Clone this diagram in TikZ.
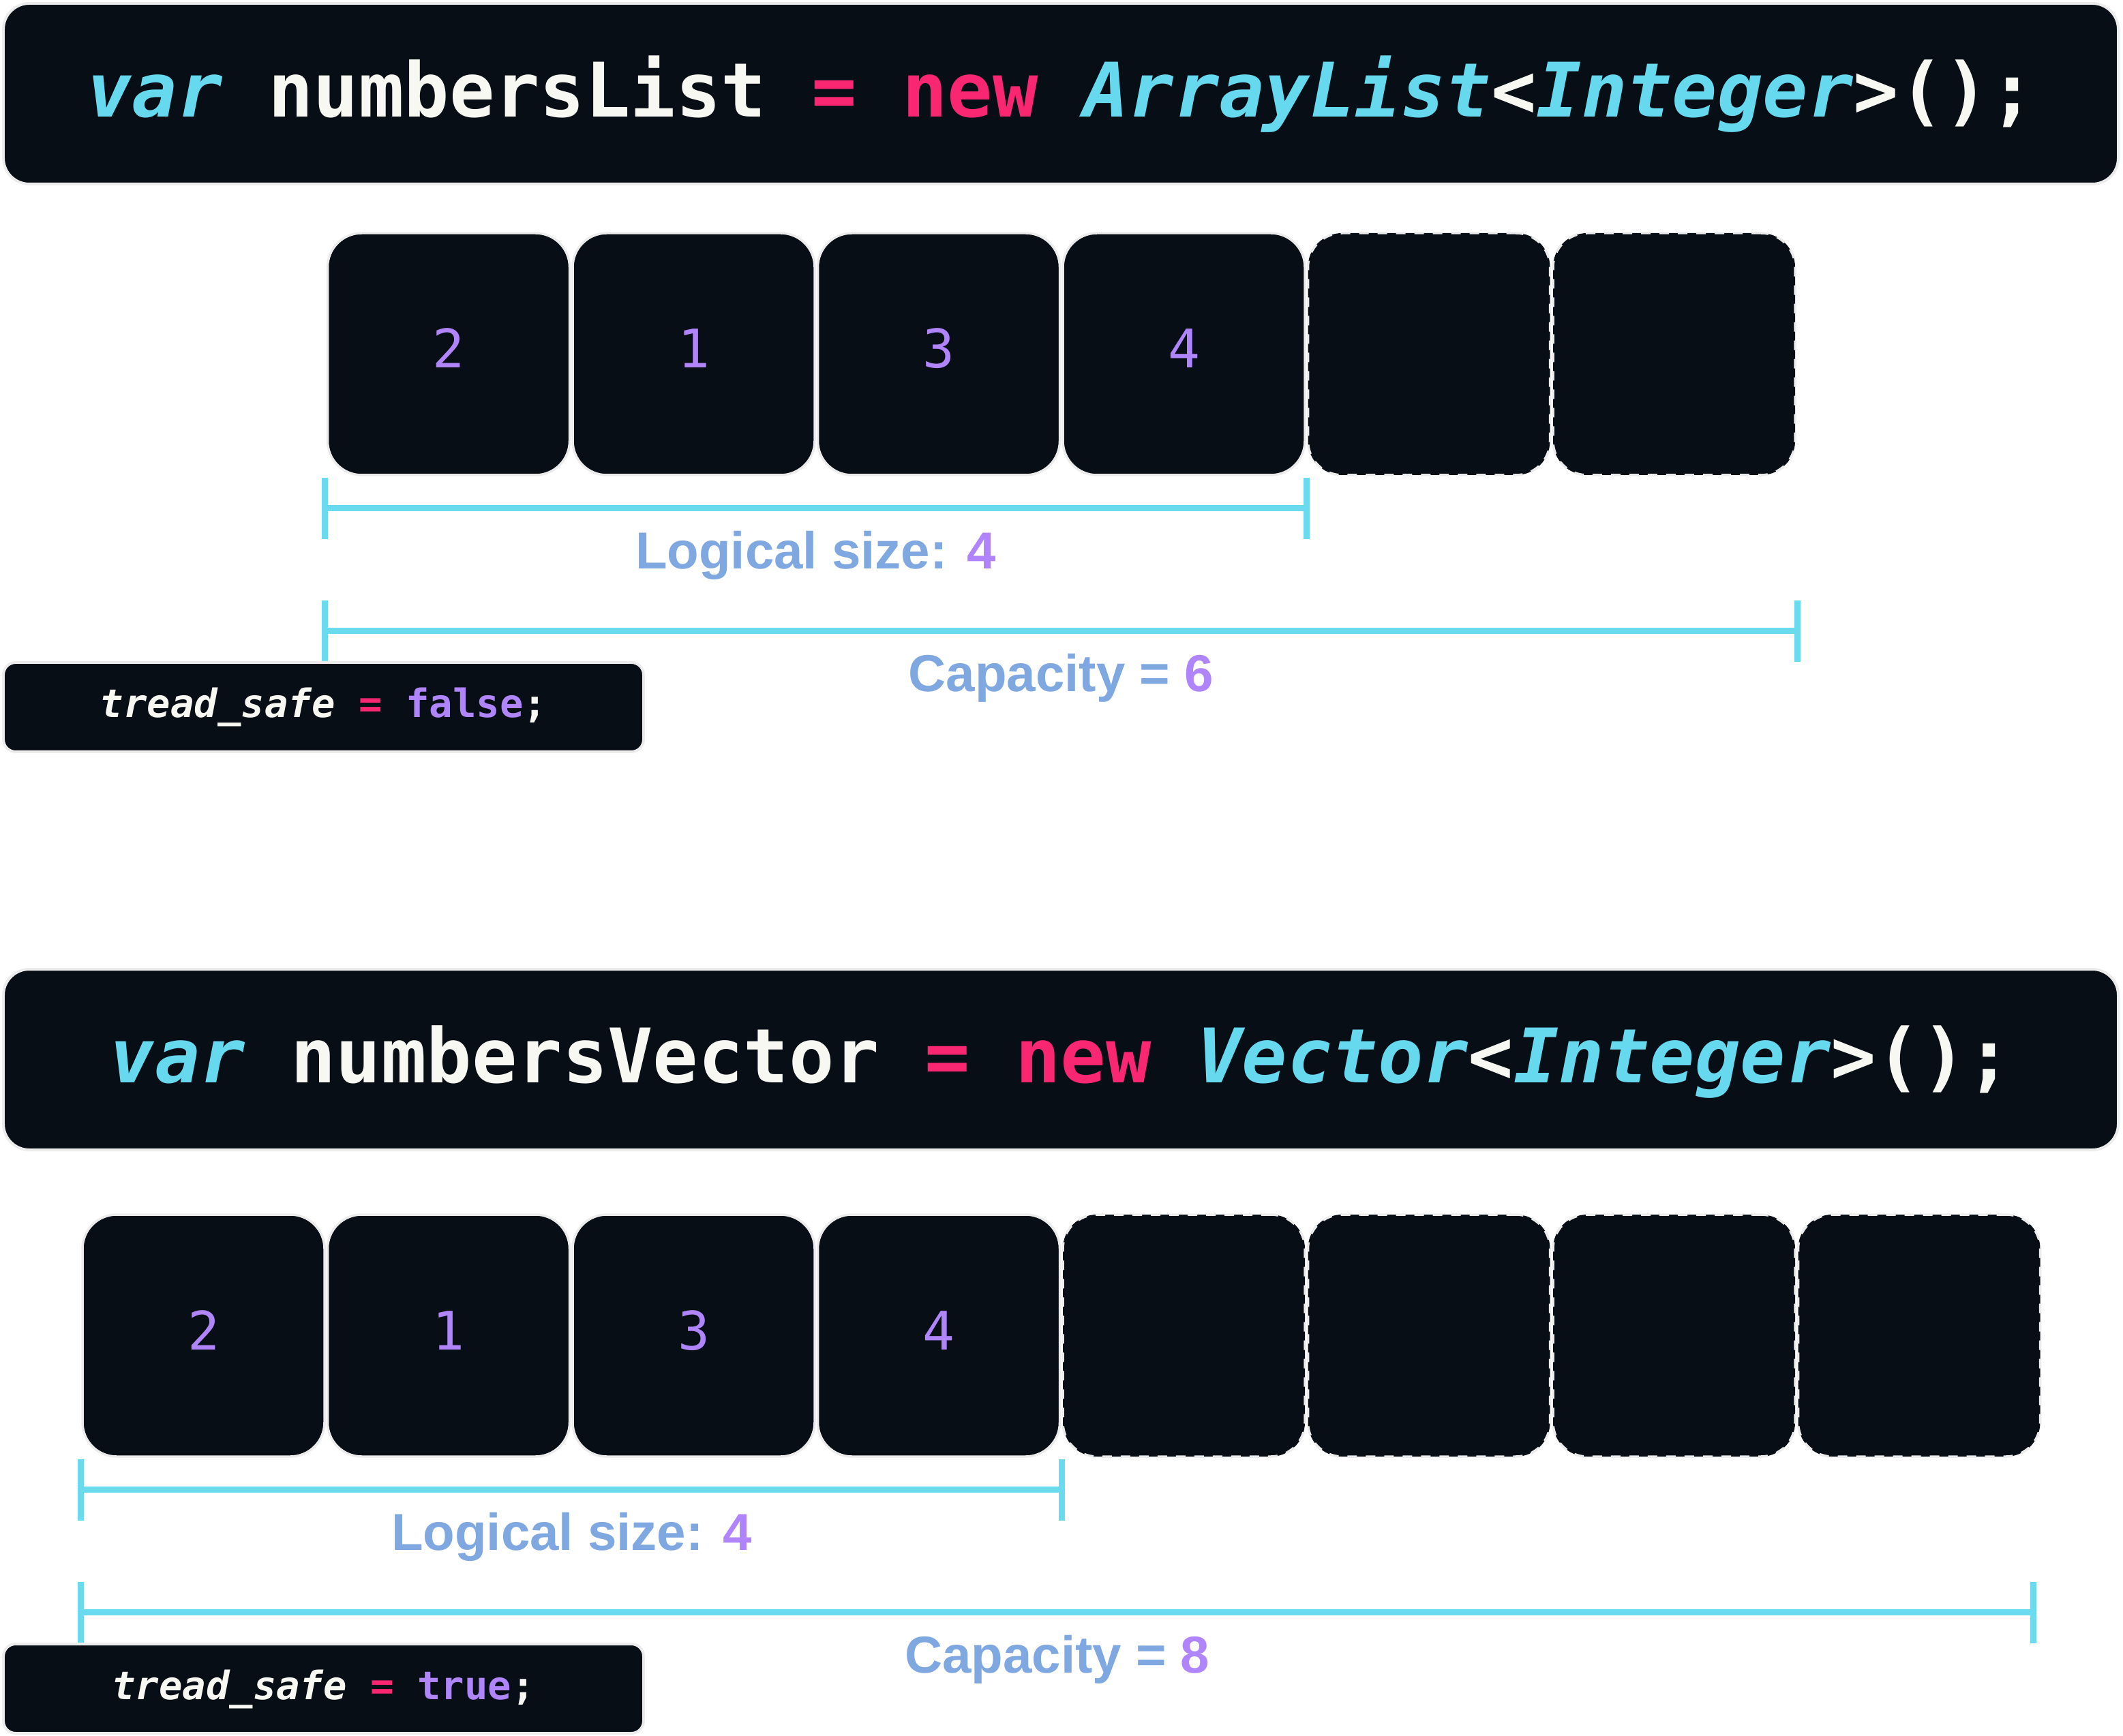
\documentclass[tikz,border=0pt]{standalone}
\usepackage{fontspec}
\setmainfont{Liberation Sans}
\newfontfamily\codefont{DejaVu Sans Mono}
\usepackage{xcolor}
\definecolor{codebg}{RGB}{8,14,22}
\definecolor{codewhite}{RGB}{248,248,242}
\definecolor{codecyan}{RGB}{102,217,239}
\definecolor{codepink}{RGB}{249,38,114}
\definecolor{codepurple}{RGB}{176,132,250}
\definecolor{dimcyan}{RGB}{106,218,238}
\definecolor{lblblue}{RGB}{127,167,224}
\definecolor{halo}{RGB}{236,236,236}
\usetikzlibrary{arrows.meta,positioning,calc}
\newcommand{\kw}[1]{\textcolor{codecyan}{\itshape #1}}
\newcommand{\op}[1]{\textcolor{codepink}{#1}}
\newcommand{\lit}[1]{\textcolor{codepurple}{#1}}

\begin{document}
\begin{tikzpicture}[every node/.style={inner sep=0pt},
  banner/.style={draw=halo, line width=0.04cm, fill=codebg, rounded corners=0.38cm, minimum width=31.02cm, minimum height=2.65cm, text=codewhite, font=\codefont\bfseries\fontsize{31.4}{36}\selectfont, text height=0.95cm, text depth=0.27cm},
  cell/.style={draw=halo, line width=0.035cm, fill=codebg, rounded corners=0.5cm, minimum width=3.55cm, minimum height=3.55cm, text=codepurple, font=\codefont\fontsize{22.2}{26}\selectfont, text height=0.6cm, text depth=0.19cm},
  free/.style={cell, dash pattern=on 0.14cm off 0.13cm},
  flag/.style={draw=halo, line width=0.04cm, fill=codebg, rounded corners=0.18cm, minimum width=9.39cm, minimum height=1.31cm, text=codewhite, font=\codefont\bfseries\fontsize{16.3}{19}\selectfont, text height=0.5cm, text depth=0.19cm},
  dim/.style={draw=dimcyan, line width=0.09cm, arrows={Bar[width=0.9cm]-Bar[width=0.9cm]}},
  lbl/.style={text=lblblue, font=\bfseries\fontsize{21.7}{26}\selectfont, anchor=base}]
\useasboundingbox (0,0) rectangle (31.14,-25.47);
% ArrayList
\node[banner] (alist) at (15.56,-1.375) {\kw{var} numbersList \op{= new} \kw{ArrayList}<\kw{Integer}>();};
\foreach \val [count=\i] in {2,1,3,4}
  \node[cell] (l\i) at ({6.58+3.595*(\i-1)},-5.195) {\val};
\foreach \i in {5,6}
  \node[free] (l\i) at ({6.58+3.595*(\i-1)},-5.195) {};
\coordinate (lsA) at ($(l1.south west)+(-0.07,-0.47)$);
\coordinate (lsB) at ($(l5.south west)+(0.04,-0.47)$);
\coordinate (lcA) at ($(l1.south west)+(-0.07,-2.27)$);
\coordinate (lcB) at ($(l6.south east)+(0.06,-2.27)$);
\draw[dim] (lsA) -- (lsB);
\draw[dim] (lcA) -- (lcB);
\node[lbl] (lsize) at ($(lsA)!0.5!(lsB)+(0,-0.89)$) {Logical size: \lit{4}};
\node[lbl] (lcap) at ($(lcA)!0.5!(lcB)+(0,-0.89)$) {Capacity = \lit{6}};
\node[flag] (lflag) at (4.745,-10.375) {\textcolor{codewhite}{\itshape tread\_safe} \op{=} \lit{false};};
% Vector
\node[banner] (vect) at (15.56,-15.545) {\kw{var} numbersVector \op{= new} \kw{Vector}<\kw{Integer}>();};
\foreach \val [count=\i] in {2,1,3,4}
  \node[cell] (v\i) at ({2.985+3.595*(\i-1)},-19.595) {\val};
\foreach \i in {5,...,8}
  \node[free] (v\i) at ({2.985+3.595*(\i-1)},-19.595) {};
\coordinate (vsA) at ($(v1.south west)+(-0.05,-0.47)$);
\coordinate (vsB) at ($(v5.south west)+(0.05,-0.47)$);
\coordinate (vcA) at ($(v1.south west)+(-0.05,-2.27)$);
\coordinate (vcB) at ($(v8.south east)+(-0.07,-2.27)$);
\draw[dim] (vsA) -- (vsB);
\draw[dim] (vcA) -- (vcB);
\node[lbl] (vsize) at ($(vsA)!0.5!(vsB)+(0,-0.89)$) {Logical size: \lit{4}};
\node[lbl] (vcap) at ($(vcA)!0.5!(vcB)+(0,-0.89)$) {Capacity = \lit{8}};
\node[flag] (vflag) at (4.745,-24.775) {\textcolor{codewhite}{\itshape tread\_safe} \op{=} \lit{true};};
\end{tikzpicture}
\end{document}
